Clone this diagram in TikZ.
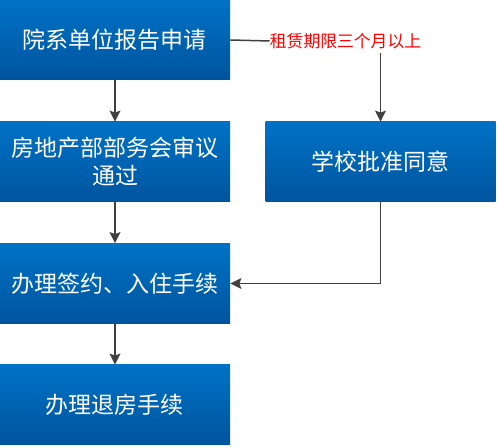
\documentclass[tikz,border=0pt]{standalone}
\usepackage{fontspec}
\setmainfont{Noto Sans CJK SC}
\usetikzlibrary{arrows.meta}
\definecolor{boxtop}{RGB}{0,114,198}
\definecolor{boxbot}{RGB}{0,84,158}
\definecolor{linegray}{RGB}{64,64,64}
\tikzset{
  flowbox/.style={rectangle, top color=boxtop, bottom color=boxbot, draw=none,
    minimum width=115pt, minimum height=40pt, inner sep=0pt, text=white,
    font=\fontsize{11.5pt}{14pt}\selectfont, align=center},
  flowarrow/.style={draw=linegray, line width=0.75pt, -{Stealth[length=5.5pt,width=5.5pt,inset=1pt]}}
}
\begin{document}
\begin{tikzpicture}[x=0.5pt,y=-0.5pt]
  \useasboundingbox (0,0) rectangle (498,448);
  \node[flowbox] (apply) at (115,40) {院系单位报告申请};
  \node[flowbox] (review) at (115,162) {房地产部部务会审议\\通过};
  \node[flowbox] (approve) at (380.5,162) {学校批准同意};
  \node[flowbox] (sign) at (115,283.5) {办理签约、入住手续};
  \node[flowbox] (leave) at (115,405) {办理退房手续};
  \node[text=red, font=\fontsize{8.4pt}{10pt}\selectfont, inner sep=0pt] (term) at (345.5,41) {租赁期限三个月以上};
  % connectors
  \draw[linegray, line width=0.75pt] (apply.east) -- (term.west);
  \draw[flowarrow] (term.south -| approve.north) ++(0,4) -- (approve.north);
  \draw[flowarrow] (apply) -- (review);
  \draw[flowarrow] (review) -- (sign);
  \draw[flowarrow] (sign) -- (leave);
  \draw[flowarrow] (approve.south) |- (sign.east);
\end{tikzpicture}
\end{document}
